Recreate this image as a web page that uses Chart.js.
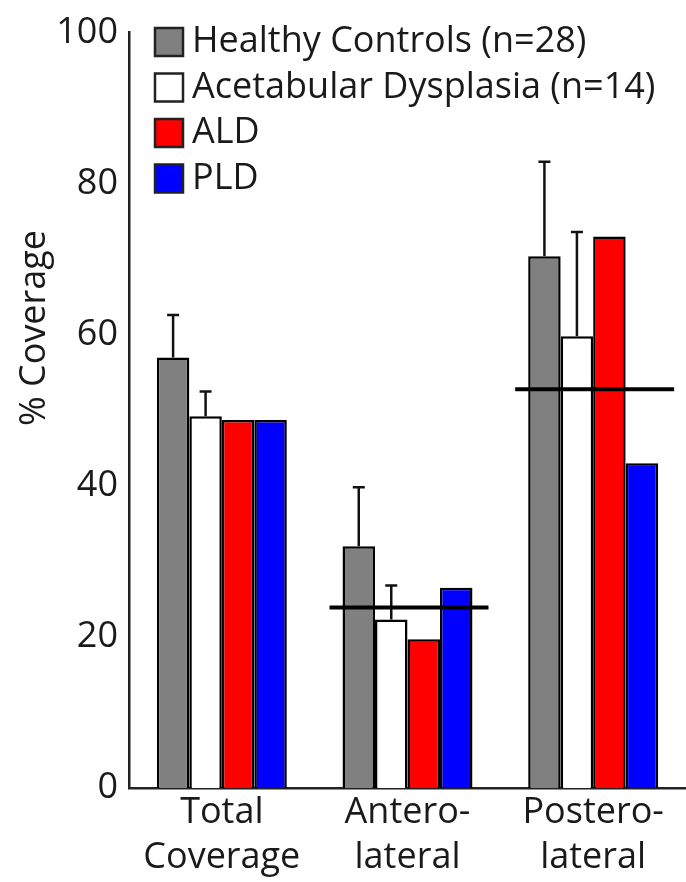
<!DOCTYPE html>
<html>
<head>
<meta charset="utf-8">
<script src="https://cdn.jsdelivr.net/npm/chart.js@4.4.1/dist/chart.umd.min.js"></script>
<style>
  body { margin: 0; background: #fff; }
  #wrap { width: 686px; height: 882px; }
</style>
</head>
<body>
<div id="wrap"><canvas id="coverageChart"></canvas></div>
<script>
// values (% coverage)
const categories = [["Total", "Coverage"], ["Antero-", "lateral"], ["Postero-", "lateral"]];
const healthyControls = [57.0, 32.0, 70.4];
const healthyControlsSD = [5.6, 7.8, 12.5];
const dysplasia = [49.2, 22.3, 59.8];
const dysplasiaSD = [3.3, 4.5, 13.8];
const aldValues = [48.7, 19.7, 73.0];
const pldValues = [48.7, 26.5, 43.0];
const referenceLine = [null, 23.9, 52.8];
const yTicks = [0, 20, 40, 60, 80, 100];

const FONT = "'Open Sans', sans-serif";
const TEXT = "#1a1a1a";

// upward-only error bars on the bars that carry an "errors" array
const errorBarPlugin = {
  id: "errorBars",
  afterDatasetsDraw(chart) {
    const ctx = chart.ctx;
    const y = chart.scales.y;
    chart.data.datasets.forEach((ds, i) => {
      if (!ds.errors) return;
      const meta = chart.getDatasetMeta(i);
      meta.data.forEach((bar, j) => {
        const top = y.getPixelForValue(ds.data[j] + ds.errors[j]);
        ctx.save();
        ctx.strokeStyle = "#111";
        ctx.lineWidth = 2.5;
        ctx.beginPath();
        ctx.moveTo(bar.x, bar.y);
        ctx.lineTo(bar.x, top);
        ctx.moveTo(bar.x - 6, top);
        ctx.lineTo(bar.x + 6, top);
        ctx.stroke();
        ctx.restore();
      });
    });
  },
};

// black horizontal line across a category group
const referenceLinePlugin = {
  id: "referenceLine",
  afterDatasetsDraw(chart) {
    const ctx = chart.ctx;
    const y = chart.scales.y;
    const first = chart.getDatasetMeta(0);
    const last = chart.getDatasetMeta(chart.data.datasets.length - 1);
    referenceLine.forEach((v, j) => {
      if (v === null) return;
      const a = first.data[j], b = last.data[j];
      const left = a.x - a.width / 2 - 13;
      const right = b.x + b.width / 2 + 16;
      const py = y.getPixelForValue(v);
      ctx.save();
      ctx.strokeStyle = "#000";
      ctx.lineWidth = 4;
      ctx.beginPath();
      ctx.moveTo(left, py);
      ctx.lineTo(right, py);
      ctx.stroke();
      ctx.restore();
    });
  },
};

// legend stacked in the upper left of the plot
const boxLegendPlugin = {
  id: "boxLegend",
  afterDraw(chart) {
    const ctx = chart.ctx;
    const x0 = chart.chartArea.left + 26;
    ctx.save();
    ctx.font = "36px " + FONT;
    ctx.textBaseline = "middle";
    chart.data.datasets.forEach((ds, i) => {
      const cy = 42 + i * 45.5;
      ctx.fillStyle = ds.backgroundColor;
      ctx.fillRect(x0, cy - 14, 28, 28);
      ctx.strokeStyle = "#222";
      ctx.lineWidth = 2.5;
      ctx.strokeRect(x0, cy - 14, 28, 28);
      ctx.fillStyle = TEXT;
      ctx.fillText(ds.label, x0 + 37, cy);
    });
    ctx.restore();
  },
};

// y axis title, drawn by hand so it can sit above centre like the original
const yTitlePlugin = {
  id: "yTitle",
  afterDraw(chart) {
    const ctx = chart.ctx;
    ctx.save();
    ctx.translate(35, 328);
    ctx.rotate(-Math.PI / 2);
    ctx.font = "36px " + FONT;
    ctx.fillStyle = TEXT;
    ctx.textAlign = "center";
    ctx.textBaseline = "middle";
    ctx.fillText("% Coverage", 0, 0);
    ctx.restore();
  },
};

const ctx = document.getElementById("coverageChart").getContext("2d");
new Chart(ctx, {
  type: "bar",
  data: {
    labels: categories,
    datasets: [
      {
        label: "Healthy Controls (n=28)",
        data: healthyControls,
        errors: healthyControlsSD,
        backgroundColor: "#808080",
      },
      {
        label: "Acetabular Dysplasia (n=14)",
        data: dysplasia,
        errors: dysplasiaSD,
        backgroundColor: "#ffffff",
      },
      {
        label: "ALD",
        data: aldValues,
        backgroundColor: "#ff0000",
      },
      {
        label: "PLD",
        data: pldValues,
        backgroundColor: "#0000ff",
      },
    ],
  },
  options: {
    responsive: true,
    maintainAspectRatio: false,
    animation: false,
    layout: { padding: { top: 28, right: 0, left: 0, bottom: 0 } },
    datasets: {
      bar: {
        borderColor: "#000",
        borderWidth: 2.5,
        categoryPercentage: 0.7,
        barPercentage: 1.0,
      },
    },
    plugins: {
      legend: { display: false },
      tooltip: { enabled: false },
    },
    scales: {
      x: {
        grid: { display: false, drawTicks: false },
        border: { color: "#222", width: 2.5 },
        ticks: {
          color: TEXT,
          padding: 2,
          maxRotation: 0,
          font: { family: FONT, size: 36, lineHeight: 1.25 },
        },
        afterFit(scale) { scale.height = 94; },
      },
      y: {
        min: 0,
        max: 100,
        grid: { display: false, drawTicks: false },
        border: { color: "#222", width: 2.5 },
        afterBuildTicks(scale) {
          scale.ticks = yTicks.map((v) => ({ value: v }));
        },
        ticks: {
          color: TEXT,
          padding: 11,
          font: { family: FONT, size: 36 },
        },
        afterFit(scale) { scale.width = 129; },
      },
    },
  },
  plugins: [errorBarPlugin, referenceLinePlugin, boxLegendPlugin, yTitlePlugin],
});
</script>
</body>
</html>
